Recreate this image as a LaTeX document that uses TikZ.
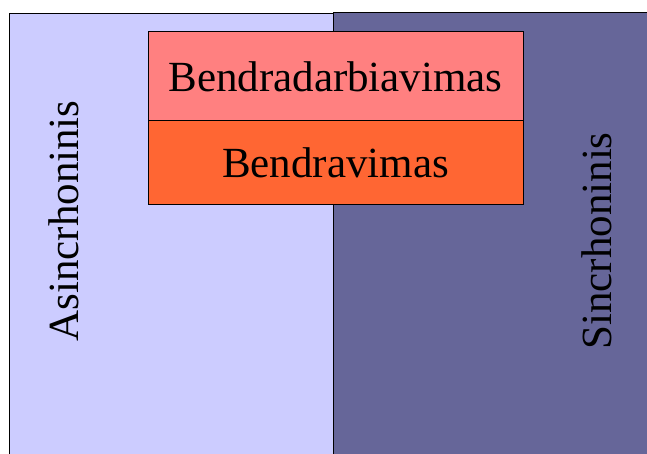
\documentclass[tikz,border=0pt]{standalone}
\usepackage{fontspec}
\setmainfont{Liberation Serif}
\definecolor{lavendel}{HTML}{CCCCFF}
\definecolor{slate}{HTML}{666699}
\definecolor{rozine}{HTML}{FF8080}
\definecolor{oranzine}{HTML}{FF6633}
\begin{document}
\begin{tikzpicture}[x=0.5pt,y=0.5pt,line width=0.5pt,line join=miter,
	lbl/.style={font=\fontsize{21.5}{26}\selectfont,inner sep=0pt}]
	\useasboundingbox (0,0) rectangle (647,454);
	\clip (0,0) rectangle (647,454);
	% two halves of the background
	\draw[fill=lavendel] (9,-10) rectangle (333,440);
	\draw[fill=slate] (333,-10) rectangle (660,441);
	\node[lbl,rotate=90] (async) at (64,233) {Asincrhoninis};
	\node[lbl,rotate=90] (sync) at (597,213) {Sincrhoninis};
	% stacked boxes on top
	\draw[fill=rozine] (148,333) rectangle (523,422)
	node[lbl,midway] (bendradarb) {Bendradarbiavimas};
	\draw[fill=oranzine] (148,249) rectangle (523,333)
	node[lbl,midway] (bendrav) {Bendravimas};
\end{tikzpicture}
\end{document}
